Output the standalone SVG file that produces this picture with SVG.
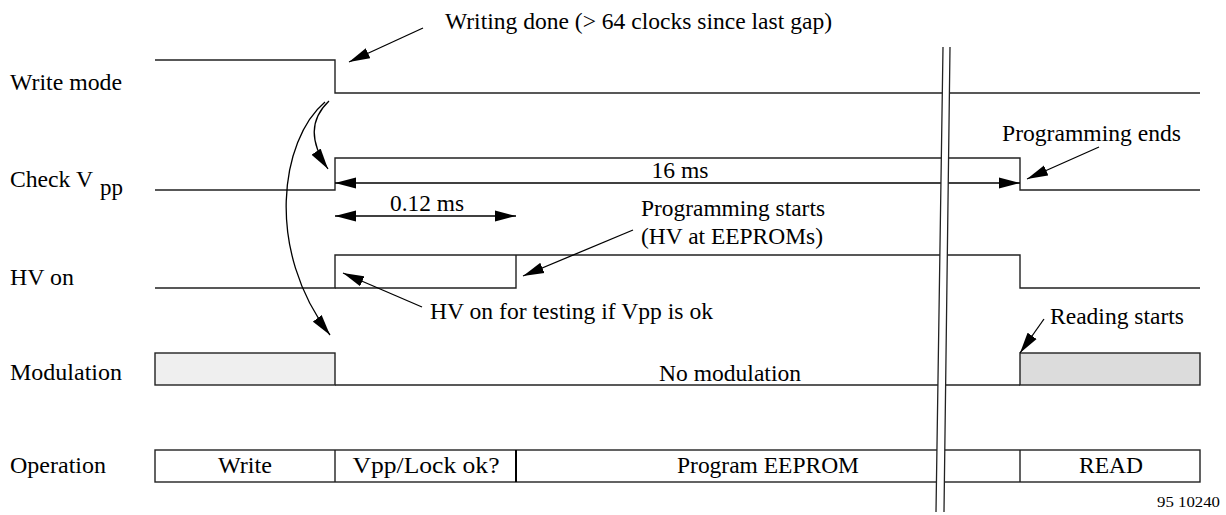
<svg xmlns="http://www.w3.org/2000/svg" width="1226" height="515" viewBox="0 0 1226 515">
<style>
.sig{fill:none;stroke:#222;stroke-width:1.4}
.box{stroke:#222;stroke-width:1.4}
.arr{fill:none;stroke:#000;stroke-width:1.3}
.t{font-family:'Liberation Serif','Times New Roman',Times,serif;font-size:23px;fill:#000}
.m{text-anchor:middle}
</style>
<defs>
<marker id="ah" markerUnits="userSpaceOnUse" markerWidth="23" markerHeight="12" refX="21" refY="6" orient="auto-start-reverse">
<path d="M0,0.5 L21,6 L0,11.5 z" fill="#000"/>
</marker>
</defs>
<rect width="1226" height="515" fill="#fff"/>
<g id="write-mode">
<path class="sig" d="M155,60 H335 V93 H1200"/>
<text class="t" x="10" y="90" textLength="112" lengthAdjust="spacingAndGlyphs">Write mode</text>
</g>
<g id="check-vpp">
<path class="sig" d="M155,190 H335 V158 H1020 V190 H1200"/>
<text class="t" x="10" y="187" textLength="83" lengthAdjust="spacingAndGlyphs">Check V</text>
<text class="t" x="100" y="195" textLength="23" lengthAdjust="spacingAndGlyphs">pp</text>
</g>
<g id="hv-on">
<path class="sig" d="M155,288 H335 V255 H1020 V288 H1200"/>
<path class="sig" d="M335,288 H516 V255"/>
<text class="t" x="10" y="285" textLength="64" lengthAdjust="spacingAndGlyphs">HV on</text>
</g>
<g id="modulation">
<rect class="box" x="155" y="353" width="180" height="32" fill="#efefef"/>
<path class="sig" d="M335,385 H1020"/>
<rect class="box" x="1020" y="353" width="180" height="32" fill="#dcdcdc"/>
<text class="t" x="10" y="380" textLength="112" lengthAdjust="spacingAndGlyphs">Modulation</text>
<text class="t m" x="730" y="381" textLength="142" lengthAdjust="spacingAndGlyphs">No modulation</text>
</g>
<g id="operation">
<rect class="box" x="155" y="450" width="1045" height="32" fill="#fff"/>
<path class="sig" d="M335,450 V482 M1020,450 V482"/>
<path d="M516,450 V482" stroke="#000" stroke-width="2"/>
<text class="t" x="10" y="473" textLength="96" lengthAdjust="spacingAndGlyphs">Operation</text>
<text class="t m" x="245" y="473" textLength="54" lengthAdjust="spacingAndGlyphs">Write</text>
<text class="t m" x="426" y="473" textLength="147" lengthAdjust="spacingAndGlyphs">Vpp/Lock ok?</text>
<text class="t m" x="768" y="473" textLength="182" lengthAdjust="spacingAndGlyphs">Program EEPROM</text>
<text class="t m" x="1111" y="473" textLength="64" lengthAdjust="spacingAndGlyphs">READ</text>
</g>
<g id="connectors">
<path class="arr" d="M423,28 L349,62" marker-end="url(#ah)"/>
<path class="arr" d="M329,101 C311,118 308,140 328,169" marker-end="url(#ah)"/>
<path class="arr" d="M325,102 C280,140 265,250 330,335" marker-end="url(#ah)"/>
<path class="arr" d="M335,183 H1020" marker-start="url(#ah)" marker-end="url(#ah)"/>
<path class="arr" d="M335,216 H516" marker-start="url(#ah)" marker-end="url(#ah)"/>
<path class="arr" d="M633,230 L523,276" marker-end="url(#ah)"/>
<path class="arr" d="M422,307 L343,273" marker-end="url(#ah)"/>
<path class="arr" d="M1099,147 L1027,179" marker-end="url(#ah)"/>
<path class="arr" d="M1044,319 L1020,353" marker-end="url(#ah)"/>
</g>
<g id="break">
<polygon points="943,47 950,47 944,512 936,512" fill="#fff"/>
<path d="M943,47 L936,512 M950,47 L944,512" stroke="#222" stroke-width="1.3" fill="none"/>
</g>
<g id="labels">
<text class="t" x="445" y="29" textLength="387" lengthAdjust="spacingAndGlyphs">Writing done (&gt; 64 clocks since last gap)</text>
<text class="t m" x="680" y="178" textLength="57" lengthAdjust="spacingAndGlyphs">16 ms</text>
<text class="t m" x="427" y="211" textLength="74" lengthAdjust="spacingAndGlyphs">0.12 ms</text>
<text class="t" x="641" y="216" textLength="184" lengthAdjust="spacingAndGlyphs">Programming starts</text>
<text class="t" x="641" y="244" textLength="182" lengthAdjust="spacingAndGlyphs">(HV at EEPROMs)</text>
<text class="t" x="430" y="319" textLength="283" lengthAdjust="spacingAndGlyphs">HV on for testing if Vpp is ok</text>
<text class="t" x="1002" y="141" textLength="179" lengthAdjust="spacingAndGlyphs">Programming ends</text>
<text class="t" x="1050" y="324" textLength="134" lengthAdjust="spacingAndGlyphs">Reading starts</text>
<text class="t" x="1157" y="507" style="font-size:15px" textLength="63" lengthAdjust="spacingAndGlyphs">95 10240</text>
</g>
</svg>
